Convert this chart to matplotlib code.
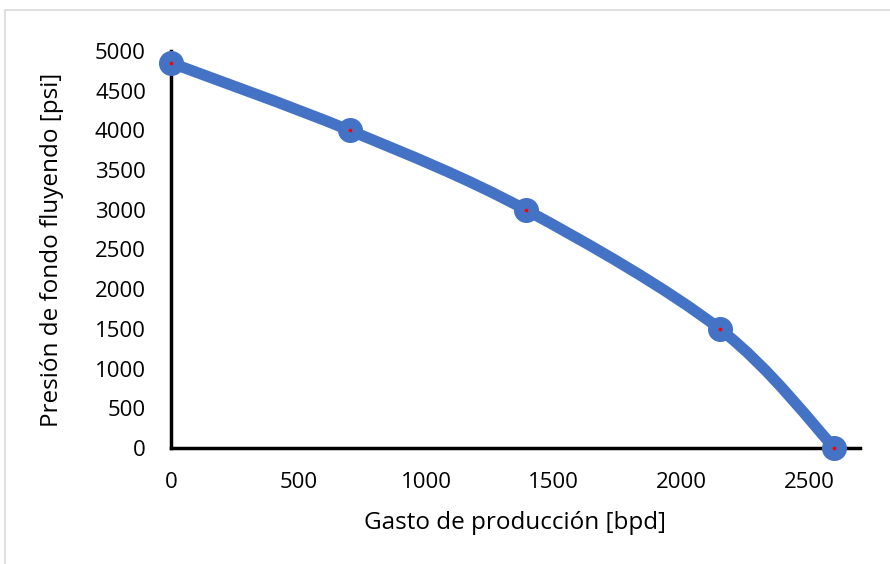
import numpy as np
import matplotlib
matplotlib.use('Agg')
import matplotlib.pyplot as plt
from matplotlib.path import Path
from matplotlib.patches import PathPatch, Rectangle

# Curva IPR: gasto vs presión de fondo fluyendo
gasto = [0, 700, 1390, 2150, 2600]
presion = [4850, 4000, 3000, 1500, 0]

x_ticks = [0, 500, 1000, 1500, 2000, 2500]
y_ticks = list(range(0, 5001, 500))

azul = '#4472C4'

plt.rcParams['font.family'] = ['Open Sans', 'DejaVu Sans']

fig = plt.figure(figsize=(8.9, 5.64), dpi=100)
ax = fig.add_axes([0.1921, 0.2057, 0.7742, 0.7039])

# borde gris del gráfico
fig.patches.append(Rectangle((5 / 890, -0.1), 1.2, 1 - 10 / 564 + 0.1,
                             transform=fig.transFigure, fill=False,
                             edgecolor='#d9d9d9', linewidth=1.2))


def curva_suave(xs, ys):
    # bezier tipo Catmull-Rom, como la línea suavizada de Excel
    pts = np.column_stack([xs, ys]).astype(float)
    verts = [pts[0]]
    codes = [Path.MOVETO]
    n = len(pts)
    for i in range(n - 1):
        p0 = pts[i - 1] if i > 0 else pts[i]
        p1 = pts[i]
        p2 = pts[i + 1]
        p3 = pts[i + 2] if i + 2 < n else pts[i + 1]
        c1 = p1 + (p2 - p0) / 6.0
        c2 = p2 - (p3 - p1) / 6.0
        verts += [c1, c2, p2]
        codes += [Path.CURVE4] * 3
    return Path(verts, codes)


ax.add_patch(PathPatch(curva_suave(gasto, presion), facecolor='none',
                       edgecolor=azul, linewidth=8, capstyle='round',
                       zorder=3, clip_on=False))
ax.plot(gasto, presion, 'o', color=azul, markersize=17, zorder=4, clip_on=False)
ax.plot(gasto, presion, 's', color='red', markersize=1.5, zorder=5, clip_on=False)

ax.set_xlim(0, 2700)
ax.set_ylim(0, 5000)
ax.set_xticks(x_ticks)
ax.set_yticks(y_ticks)
ax.tick_params(axis='x', length=0, labelsize=16, pad=17)
ax.tick_params(axis='y', length=0, labelsize=16, pad=18)

for s in ['top', 'right']:
    ax.spines[s].set_visible(False)
for s in ['left', 'bottom']:
    ax.spines[s].set_linewidth(2.5)
    ax.spines[s].set_color('black')

ax.set_xlabel('Gasto de producción [bpd]', fontsize=17.5)
ax.set_ylabel('Presión de fondo fluyendo [psi]', fontsize=17.5)
ax.xaxis.set_label_coords(0.5, -0.158)
ax.yaxis.set_label_coords(-0.155, 0.5)

fig.savefig('out.png', dpi=100)
